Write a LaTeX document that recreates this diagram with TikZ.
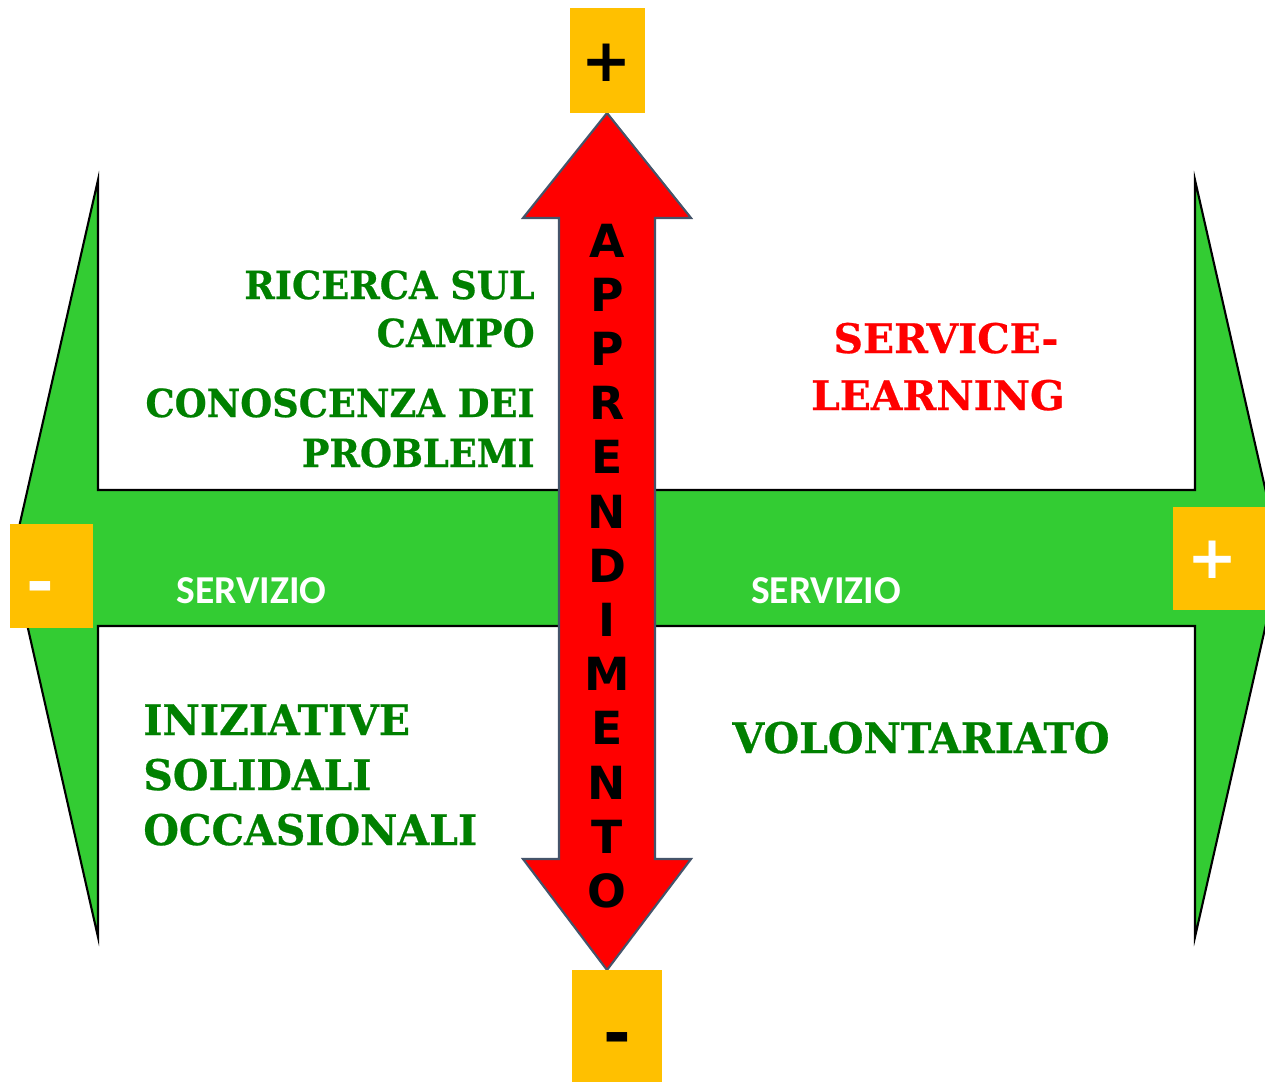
\documentclass[tikz,border=0pt]{standalone}
\usepackage{fontspec}
\newfontfamily\gserif{DejaVu Serif}
\newfontfamily\gserifA{DejaVu Serif}[FakeStretch=0.95,BoldFeatures={FakeStretch=0.95,FakeBold=0.6}]
\newfontfamily\gserifB{DejaVu Serif}[FakeStretch=0.97,BoldFeatures={FakeStretch=0.97,FakeBold=0.6}]
\newfontfamily\gserifC{DejaVu Serif}[BoldFeatures={FakeBold=0.6}]
\newfontfamily\vsans{DejaVu Sans}
\newfontfamily\calib{Carlito}
\definecolor{arrgreen}{HTML}{33CC33}
\definecolor{txtgreen}{HTML}{008000}
\definecolor{yboxcol}{HTML}{FFC000}
\definecolor{redline}{HTML}{44546A}
\begin{document}
\begin{tikzpicture}[x=0.02cm,y=-0.02cm,
  greenarrow/.style={fill=arrgreen,draw=black,line width=1.2pt,line join=miter},
  redarrow/.style={fill=red,draw=redline,line width=1.2pt,line join=miter},
  yellowbox/.style={fill=yboxcol,draw=none,inner sep=0pt,rectangle},
  gtext/.style={text=txtgreen,inner sep=0pt,font=\gserifA\bfseries\fontsize{22}{26}\selectfont},
  gtextbig/.style={text=txtgreen,inner sep=0pt,font=\gserifB\bfseries\fontsize{24}{28}\selectfont},
  rtext/.style={text=red,inner sep=0pt,font=\gserifC\bfseries\fontsize{23.2}{28}\selectfont},
  servtext/.style={text=white,inner sep=0pt,anchor=base,font=\calib\bfseries\fontsize{22.5}{26}\selectfont},
  lettertext/.style={text=black,inner sep=0pt,anchor=base,font=\vsans\bfseries\fontsize{26}{30}\selectfont},
  signtext/.style={inner sep=0pt,font=\vsans\bfseries\fontsize{34}{38}\selectfont},
  minustext/.style={inner sep=0pt,anchor=base,font=\vsans\bfseries\fontsize{38}{42}\selectfont}
]
\useasboundingbox (0,0) rectangle (1265,1082);
\fill[white] (0,0) rectangle (1265,1082);
\clip (0,0) rectangle (1265,1082);

% green horizontal double arrow
\draw[greenarrow] (12,558) -- (98,180) -- (98,490) -- (1195,490) -- (1195,180)
  -- (1281,558) -- (1195,937) -- (1195,626) -- (98,626) -- (98,937) -- cycle;

% red vertical double arrow
\draw[redarrow] (607,113) -- (691,218) -- (655,218) -- (655,859) -- (691,859)
  -- (607,970) -- (523,859) -- (559,859) -- (559,218) -- (523,218) -- cycle;

% yellow boxes
\node[yellowbox,minimum width=1.5cm,minimum height=2.1cm] (topbox) at (607.5,60.5) {};
\node[yellowbox,minimum width=1.8cm,minimum height=2.24cm] (botbox) at (617,1026) {};
\node[yellowbox,minimum width=1.66cm,minimum height=2.08cm] (leftbox) at (51.5,576) {};
\node[yellowbox,minimum width=1.9cm,minimum height=2.06cm] (rightbox) at (1220,558.5) {};

\node[signtext,text=black] (topsign) at (607,63) {+};
\node[minustext,text=black] (botsign) at (617,1056) {-};
\node[minustext,text=white] (leftsign) at (40,605) {-};
\node[signtext,text=white] (rightsign) at (1213,560) {+};

% SERVIZIO labels
\node[servtext] (servl) at (251.5,603) {SERVIZIO};
\node[servtext] (servr) at (826,603) {SERVIZIO};

% APPRENDIMENTO
\foreach \ch [count=\i] in {A,P,P,R,E,N,D,I,M,E,N,T,O}{
  \node[lettertext] (l\i) at (607,{257+54.2*(\i-1)}) {\ch};
}

% quadrant texts
\node[gtext,anchor=base east] (t1) at (535,299) {RICERCA SUL};
\node[gtext,anchor=base east] (t2) at (535,347) {CAMPO};
\node[gtext,anchor=base east] (t3) at (535,417) {CONOSCENZA DEI};
\node[gtext,anchor=base east] (t4) at (535,467) {PROBLEMI};

\node[rtext,anchor=base] (s1) at (946,353) {SERVICE-};
\node[rtext,anchor=base] (s2) at (938,410) {LEARNING};

\node[gtextbig,anchor=base west] (i1) at (143,735) {INIZIATIVE};
\node[gtextbig,anchor=base west] (i2) at (143,790) {SOLIDALI};
\node[gtextbig,anchor=base west] (i3) at (143,845) {OCCASIONALI};

\node[gtextbig,anchor=base] (v1) at (921,753) {VOLONTARIATO};
\end{tikzpicture}
\end{document}
